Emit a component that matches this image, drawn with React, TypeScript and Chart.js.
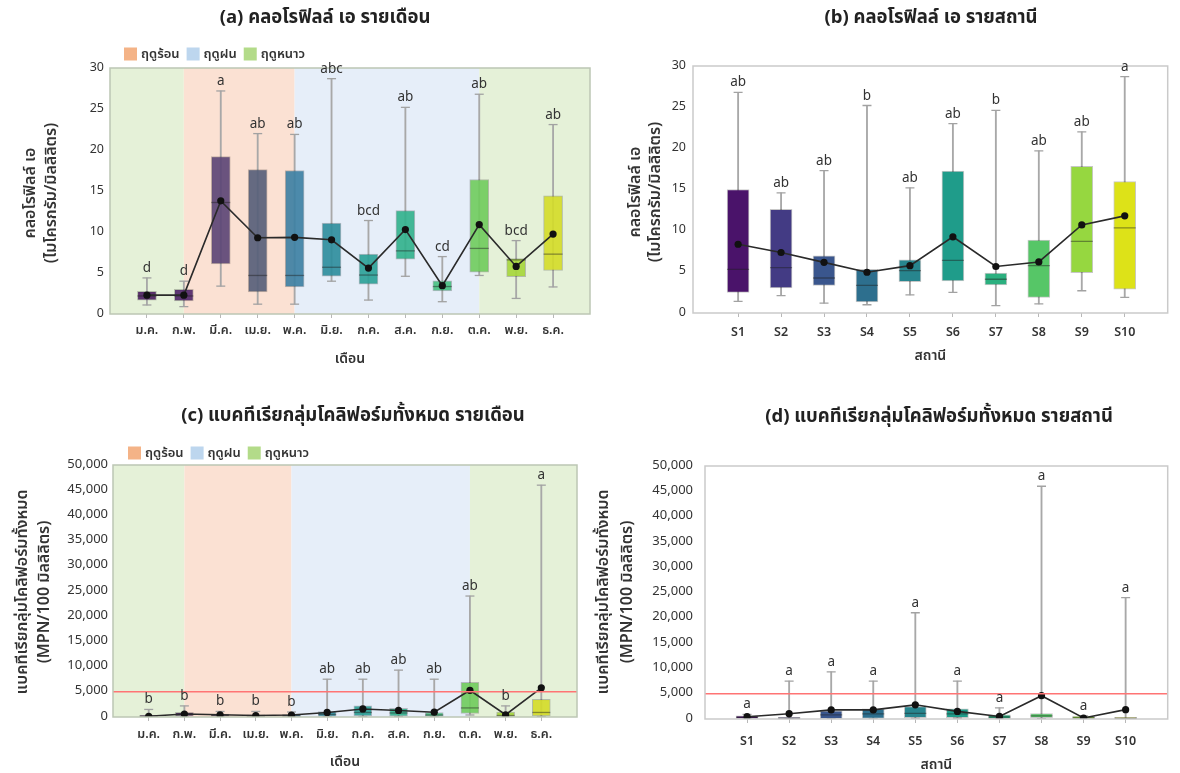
import React, { useEffect, useRef } from 'react';
import { Chart, registerables } from 'chart.js';

Chart.register(...registerables);

const W = 1180;
const H = 773;
const FONT = "'Noto Sans Thai', 'Noto Sans', 'Open Sans', sans-serif";

// ---------- categories ----------
const monthLabels = ['ม.ค.', 'ก.พ.', 'มี.ค.', 'เม.ย.', 'พ.ค.', 'มิ.ย.', 'ก.ค.', 'ส.ค.', 'ก.ย.', 'ต.ค.', 'พ.ย.', 'ธ.ค.'];
const stationLabels = ['S1', 'S2', 'S3', 'S4', 'S5', 'S6', 'S7', 'S8', 'S9', 'S10'];

// ---------- (a) chlorophyll a by month (µg/mL) ----------
const chlMonthMin = [1.1, 0.9, 3.4, 1.2, 1.2, 4.0, 1.7, 4.6, 1.5, 4.7, 1.9, 3.3];
const chlMonthQ1 = [1.7, 1.6, 6.1, 2.7, 3.3, 4.6, 3.65, 6.7, 2.8, 5.1, 4.55, 5.3];
const chlMonthMedian = [2.2, 2.2, 13.6, 4.7, 4.7, 5.7, 4.75, 7.7, 3.35, 8.0, 6.6, 7.3];
const chlMonthQ3 = [2.75, 3.0, 19.2, 17.6, 17.5, 11.1, 7.3, 12.6, 4.05, 16.4, 6.75, 14.4];
const chlMonthMax = [4.4, 4.0, 27.2, 22.0, 21.9, 28.7, 11.4, 25.2, 7.0, 26.8, 8.95, 23.1];
const chlMonthMean = [2.3, 2.3, 13.8, 9.3, 9.35, 9.05, 5.6, 10.3, 3.45, 10.9, 5.8, 9.75];
const chlMonthLetters = ['d', 'd', 'a', 'ab', 'ab', 'abc', 'bcd', 'ab', 'cd', 'ab', 'bcd', 'ab'];

// ---------- (b) chlorophyll a by station ----------
const chlStationMin = [1.4, 2.1, 1.2, 1.0, 2.2, 2.5, 0.9, 1.1, 2.7, 1.9];
const chlStationQ1 = [2.5, 3.05, 3.35, 1.35, 3.8, 3.9, 3.4, 1.9, 4.9, 2.9];
const chlStationMedian = [5.3, 5.5, 4.25, 3.35, 5.15, 6.4, 4.1, 5.75, 8.7, 10.35];
const chlStationQ3 = [15.0, 12.6, 6.95, 5.3, 6.45, 17.25, 4.85, 8.85, 17.8, 15.95];
const chlStationMax = [26.8, 14.6, 17.3, 25.2, 15.2, 23.0, 24.6, 19.7, 22.0, 28.7];
const chlStationMean = [8.35, 7.35, 6.15, 4.95, 5.75, 9.25, 5.65, 6.2, 10.7, 11.8];
const chlStationLetters = ['ab', 'ab', 'ab', 'b', 'ab', 'ab', 'b', 'ab', 'ab', 'a'];

// ---------- (c) total coliform bacteria by month (MPN/100 mL) ----------
const tcbMonthMin = [20, 50, 40, 20, 20, 50, 80, 80, 50, 400, 40, 80];
const tcbMonthQ1 = [80, 150, 120, 60, 80, 100, 200, 150, 100, 700, 100, 200];
const tcbMonthMedian = [150, 500, 350, 200, 250, 500, 900, 800, 400, 1800, 300, 900];
const tcbMonthQ3 = [350, 950, 600, 450, 550, 1100, 2200, 1700, 900, 6900, 1000, 3500];
const tcbMonthMax = [1500, 2200, 1100, 1100, 1000, 7500, 7500, 9300, 7500, 24000, 2200, 46000];
const tcbMonthMean = [150, 600, 450, 300, 400, 900, 1600, 1300, 950, 5300, 450, 5800];
const tcbMonthLetters = ['b', 'b', 'b', 'b', 'b', 'ab', 'ab', 'ab', 'ab', 'ab', 'b', 'a'];

// ---------- (d) total coliform bacteria by station ----------
const tcbStationMin = [20, 10, 20, 30, 100, 150, 30, 50, 10, 10];
const tcbStationQ1 = [60, 30, 80, 100, 250, 250, 60, 250, 40, 30];
const tcbStationMedian = [350, 150, 800, 1000, 1100, 1000, 400, 600, 250, 150];
const tcbStationQ3 = [650, 350, 1600, 2000, 2450, 2000, 800, 1050, 600, 350];
const tcbStationMax = [900, 7500, 9300, 7500, 21000, 7500, 2200, 46000, 600, 24000];
const tcbStationMean = [450, 1050, 1800, 1800, 2800, 1500, 500, 4600, 200, 1850];
const tcbStationLetters = ['a', 'a', 'a', 'a', 'a', 'a', 'a', 'a', 'a', 'a'];

// coliform standard line
const coliformLimit = 5000;

// ---------- seasons (month index boundaries) ----------
const seasonFrom = [-1, 1, 4, 9];
const seasonTo = [1, 4, 9, 12];
const seasonOf = ['winter', 'summer', 'rainy', 'winter'];
const legendSeasons = ['summer', 'rainy', 'winter'];
const seasonNames: Record<string, string> = { summer: 'ฤดูร้อน', rainy: 'ฤดูฝน', winter: 'ฤดูหนาว' };
const seasonFill: Record<string, string> = { summer: '#fbe1d3', rainy: '#e6eef9', winter: '#e5f1d8' };
const seasonSwatch: Record<string, string> = { summer: '#f4b387', rainy: '#bdd6ee', winter: '#b3db89' };

// ---------- palettes ----------
const monthColors = ['#4a1d5f', '#4f2568', '#5a4474', '#545d78', '#3b7ea2', '#2b8c9b', '#29a096', '#30b08b', '#46bf80', '#6fcb5c', '#a5d63a', '#d4dc27'];
const stationColors = ['#4a136a', '#433b84', '#3a568d', '#2d6f8e', '#27858e', '#1f9c8a', '#2bb07f', '#56c667', '#96d740', '#dde218'];

interface PanelSpec {
  labels: string[];
  min: number[];
  q1: number[];
  median: number[];
  q3: number[];
  max: number[];
  mean: number[];
  letters: string[];
  colors: string[];
  boxAlpha: number;
  yMax: number;
  yStep: number;
  thousands: boolean;
  xMin: number;
  xMax: number;
  area: { left: number; top: number; right: number; bottom: number };
  boxWidth: number;
  yTickGap: number;
  xTickGap: number;
  title: string;
  titleX: number;
  titleY: number;
  yTitle: string[];
  yTitleX: number;
  yTitleY: number;
  yTitleGap: number;
  xTitle: string;
  xTitleY: number;
  seasons: boolean;
  legendX: number;
  legendY: number;
  limit: number | null;
  frameColor: string;
}

function withAlpha(hex: string, a: number) {
  const n = parseInt(hex.slice(1), 16);
  return `rgba(${(n >> 16) & 255},${(n >> 8) & 255},${n & 255},${a})`;
}

const panels: PanelSpec[] = [
  {
    labels: monthLabels,
    min: chlMonthMin, q1: chlMonthQ1, median: chlMonthMedian, q3: chlMonthQ3, max: chlMonthMax, mean: chlMonthMean,
    letters: chlMonthLetters,
    colors: monthColors, boxAlpha: 0.9,
    yMax: 30, yStep: 5, thousands: false,
    xMin: -1, xMax: 12,
    area: { left: 110, top: 68, right: 590, bottom: 314 },
    boxWidth: 19, yTickGap: 6, xTickGap: 6,
    title: '(a) คลอโรฟิลล์ เอ รายเดือน', titleX: 325, titleY: 19,
    yTitle: ['คลอโรฟิลล์ เอ', '(ไมโครกรัม/มิลลิลิตร)'], yTitleX: 42, yTitleY: 193, yTitleGap: 21,
    xTitle: 'เดือน', xTitleY: 360,
    seasons: true, legendX: 124, legendY: 54,
    limit: null, frameColor: '#bcc6b4',
  },
  {
    labels: stationLabels,
    min: chlStationMin, q1: chlStationQ1, median: chlStationMedian, q3: chlStationQ3, max: chlStationMax, mean: chlStationMean,
    letters: chlStationLetters,
    colors: stationColors, boxAlpha: 1,
    yMax: 30, yStep: 5, thousands: false,
    xMin: -1.05, xMax: 10,
    area: { left: 693, top: 66, right: 1176, bottom: 313 },
    boxWidth: 22, yTickGap: 7, xTickGap: 9,
    title: '(b) คลอโรฟิลล์ เอ รายสถานี', titleX: 931, titleY: 19,
    yTitle: ['คลอโรฟิลล์ เอ', '(ไมโครกรัม/มิลลิลิตร)'], yTitleX: 647, yTitleY: 192, yTitleGap: 20,
    xTitle: 'สถานี', xTitleY: 357,
    seasons: false, legendX: 0, legendY: 0,
    limit: null, frameColor: '#cacaca',
  },
  {
    labels: monthLabels,
    min: tcbMonthMin, q1: tcbMonthQ1, median: tcbMonthMedian, q3: tcbMonthQ3, max: tcbMonthMax, mean: tcbMonthMean,
    letters: tcbMonthLetters,
    colors: monthColors, boxAlpha: 0.9,
    yMax: 50000, yStep: 5000, thousands: true,
    xMin: -1, xMax: 12,
    area: { left: 113, top: 465, right: 577, bottom: 717 },
    boxWidth: 18, yTickGap: 5, xTickGap: 7,
    title: '(c) แบคทีเรียกลุ่มโคลิฟอร์มทั้งหมด รายเดือน', titleX: 353, titleY: 417,
    yTitle: ['แบคทีเรียกลุ่มโคลิฟอร์มทั้งหมด', '(MPN/100 มิลลิลิตร)'], yTitleX: 35, yTitleY: 592, yTitleGap: 22,
    xTitle: 'เดือน', xTitleY: 763,
    seasons: true, legendX: 128, legendY: 453,
    limit: coliformLimit, frameColor: '#bcc6b4',
  },
  {
    labels: stationLabels,
    min: tcbStationMin, q1: tcbStationQ1, median: tcbStationMedian, q3: tcbStationQ3, max: tcbStationMax, mean: tcbStationMean,
    letters: tcbStationLetters,
    colors: stationColors, boxAlpha: 1,
    yMax: 50000, yStep: 5000, thousands: true,
    xMin: -1, xMax: 10,
    area: { left: 705, top: 466, right: 1178, bottom: 719 },
    boxWidth: 22, yTickGap: 12, xTickGap: 12,
    title: '(d) แบคทีเรียกลุ่มโคลิฟอร์มทั้งหมด รายสถานี', titleX: 939, titleY: 418,
    yTitle: ['แบคทีเรียกลุ่มโคลิฟอร์มทั้งหมด', '(MPN/100 มิลลิลิตร)'], yTitleX: 617, yTitleY: 592, yTitleGap: 24,
    xTitle: 'สถานี', xTitleY: 766,
    seasons: false, legendX: 0, legendY: 0,
    limit: coliformLimit, frameColor: '#cacaca',
  },
];

const Y_AXIS_W = 60;
const X_AXIS_H = 40;

function buildConfig(p: PanelSpec): any {
  const idx = p.labels.map((_, i) => i);
  const datasets: any[] = [];

  if (p.limit != null) {
    datasets.push({
      type: 'line',
      data: [{ x: p.xMin, y: p.limit }, { x: p.xMax, y: p.limit }],
      borderColor: '#ff7474',
      borderWidth: 1.6,
      pointRadius: 0,
      order: 0,
    });
  }
  // mean trend
  datasets.push({
    type: 'line',
    data: idx.map((i) => ({ x: i, y: p.mean[i] })),
    borderColor: '#2a2a2a',
    borderWidth: 1.6,
    pointRadius: 3.6,
    pointBackgroundColor: '#111',
    pointBorderColor: '#111',
    pointBorderWidth: 0,
    order: 1,
  });
  // medians
  datasets.push({
    type: 'scatter',
    data: idx.map((i) => ({ x: i, y: p.median[i] })),
    pointStyle: 'line',
    pointRadius: p.boxWidth / 2,
    pointBorderColor: 'rgba(30,30,30,0.45)',
    pointBorderWidth: 1.3,
    order: 2,
  });
  // interquartile boxes
  datasets.push({
    type: 'bar',
    data: idx.map((i) => ({ x: i, y: [p.q1[i], p.q3[i]] })),
    backgroundColor: p.colors.map((c) => withAlpha(c, p.boxAlpha)),
    borderColor: 'rgba(0,0,0,0.22)',
    borderWidth: 1,
    borderSkipped: false,
    barThickness: p.boxWidth,
    grouped: false,
    order: 3,
  });
  // whisker caps
  datasets.push({
    type: 'scatter',
    data: [...idx.map((i) => ({ x: i, y: p.min[i] })), ...idx.map((i) => ({ x: i, y: p.max[i] }))],
    pointStyle: 'line',
    pointRadius: 4.5,
    pointBorderColor: '#a2a2a2',
    pointBorderWidth: 1.3,
    order: 4,
  });
  // whiskers
  datasets.push({
    type: 'bar',
    data: idx.map((i) => ({ x: i, y: [p.min[i], p.max[i]] })),
    backgroundColor: '#a8a8a8',
    borderWidth: 0,
    barThickness: 1.2,
    grouped: false,
    order: 5,
  });

  const bands = {
    id: 'seasonBands',
    beforeDatasetsDraw(chart: any) {
      if (!p.seasons) return;
      const { ctx, chartArea: a, scales } = chart;
      const x = scales.x;
      ctx.save();
      ctx.beginPath();
      ctx.rect(a.left, a.top, a.width, a.height);
      ctx.clip();
      seasonFrom.forEach((f, i) => {
        const x0 = x.getPixelForValue(f);
        const x1 = x.getPixelForValue(seasonTo[i]);
        ctx.fillStyle = seasonFill[seasonOf[i]];
        ctx.fillRect(x0, a.top, x1 - x0, a.height);
      });
      ctx.restore();
    },
  };

  const decorations = {
    id: 'decorations',
    afterDatasetsDraw(chart: any) {
      const { ctx, chartArea: a, scales } = chart;
      // plot frame
      ctx.save();
      ctx.strokeStyle = p.frameColor;
      ctx.lineWidth = 1.5;
      ctx.strokeRect(a.left, a.top, a.width, a.height);
      // group letters above whiskers
      ctx.fillStyle = '#333';
      ctx.font = `13.5px ${FONT}`;
      ctx.textAlign = 'center';
      ctx.textBaseline = 'bottom';
      idx.forEach((i) => {
        const px = scales.x.getPixelForValue(i);
        const py = scales.y.getPixelForValue(p.max[i]);
        ctx.fillText(p.letters[i], px, py - 2);
      });
      ctx.restore();
    },
    afterDraw(chart: any) {
      const { ctx, chartArea: a } = chart;
      ctx.save();
      // title
      ctx.fillStyle = '#222';
      ctx.font = `bold 18.5px ${FONT}`;
      ctx.textAlign = 'center';
      ctx.textBaseline = 'middle';
      ctx.fillText(p.title, p.titleX, p.titleY);
      // x axis title
      ctx.fillStyle = '#333';
      ctx.font = `600 14px ${FONT}`;
      ctx.fillText(p.xTitle, (a.left + a.right) / 2, p.xTitleY);
      // y axis title
      ctx.save();
      ctx.translate(p.yTitleX, p.yTitleY);
      ctx.rotate(-Math.PI / 2);
      ctx.font = `600 16px ${FONT}`;
      p.yTitle.forEach((line, k) => {
        ctx.fillText(line, 0, (k - (p.yTitle.length - 1) / 2) * p.yTitleGap);
      });
      ctx.restore();
      // season legend
      if (p.seasons) {
        let lx = p.legendX;
        ctx.font = `600 13px ${FONT}`;
        ctx.textAlign = 'left';
        ctx.textBaseline = 'middle';
        legendSeasons.forEach((s) => {
          ctx.fillStyle = seasonSwatch[s];
          ctx.fillRect(lx, p.legendY - 6.5, 13, 13);
          lx += 17;
          ctx.fillStyle = '#333';
          ctx.fillText(seasonNames[s], lx, p.legendY + 1);
          lx += ctx.measureText(seasonNames[s]).width + 7;
        });
      }
      ctx.restore();
    },
  };

  return {
    type: 'bar',
    data: { datasets },
    plugins: [bands, decorations],
    options: {
      animation: false,
      responsive: false,
      events: [],
      layout: {
        padding: {
          left: p.area.left - Y_AXIS_W,
          top: p.area.top,
          right: W - p.area.right,
          bottom: H - p.area.bottom - X_AXIS_H,
        },
      },
      plugins: { legend: { display: false }, tooltip: { enabled: false } },
      scales: {
        x: {
          type: 'linear',
          min: p.xMin,
          max: p.xMax,
          offset: false,
          afterBuildTicks: (s: any) => {
            s.ticks = idx.map((i) => ({ value: i }));
          },
          afterFit: (s: any) => {
            s.height = X_AXIS_H;
          },
          ticks: {
            autoSkip: false,
            maxRotation: 0,
            padding: p.xTickGap,
            color: '#333',
            font: { family: FONT, size: 12.5, weight: '600' },
            callback: (v: any) => p.labels[Number(v)] ?? '',
          },
          grid: { offset: false, drawOnChartArea: false, drawTicks: true, tickLength: 4, color: '#b8b8b8' },
          border: { display: false },
        },
        y: {
          type: 'linear',
          min: 0,
          max: p.yMax,
          afterFit: (s: any) => {
            s.width = Y_AXIS_W;
          },
          ticks: {
            stepSize: p.yStep,
            padding: p.yTickGap,
            color: '#333',
            font: { family: FONT, size: p.thousands ? 13 : 12.5 },
            callback: (v: any) => (p.thousands ? Number(v).toLocaleString('en-US') : String(v)),
          },
          grid: { display: false, drawTicks: false },
          border: { display: false },
        },
      },
    },
  };
}

function Panel({ spec }: { spec: PanelSpec }) {
  const ref = useRef<HTMLCanvasElement>(null);
  useEffect(() => {
    if (!ref.current) return;
    const chart = new Chart(ref.current, buildConfig(spec));
    return () => chart.destroy();
  }, [spec]);
  return (
    <canvas
      ref={ref}
      width={W}
      height={H}
      style={{ position: 'absolute', left: 0, top: 0, width: W, height: H }}
    />
  );
}

export default function App() {
  return (
    <div style={{ position: 'absolute', left: 0, top: 0, width: W, height: H, background: '#fff', overflow: 'hidden' }}>
      {panels.map((p, i) => (
        <Panel key={i} spec={p} />
      ))}
    </div>
  );
}
